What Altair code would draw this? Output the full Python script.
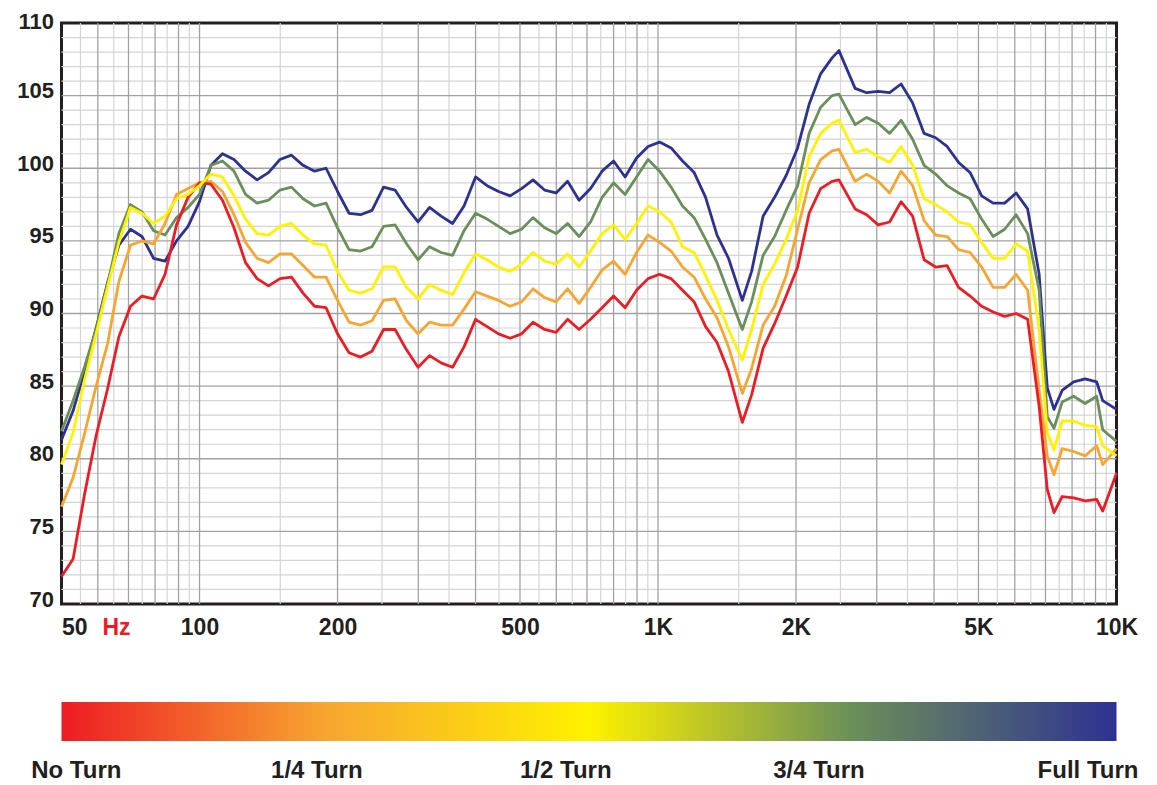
import altair as alt
import pandas as pd

# Frequencies (Hz) shared by all five curves
freqs = [50, 53.0, 56.1, 59.5, 63.0, 66.7, 70.7, 74.9, 79.4, 84.1, 89.1, 94.4,
         100, 105.9, 112.2, 118.9, 126.0, 133.5, 141.4, 149.8, 158.7, 168.2, 178.2, 188.8,
         200, 211.9, 224.5, 237.8, 252.0, 267.0, 282.8, 299.7, 317.5, 336.4, 356.4, 377.5,
         400, 423.8, 449.0, 475.7, 504.0, 533.9, 565.7, 599.3, 635.0, 672.7, 712.7, 755.1,
         800, 847.6, 898.0, 951.4, 1008, 1068, 1131, 1199, 1270, 1345, 1425, 1527,
         1600, 1695, 1796, 1903, 2016, 2136, 2263, 2397, 2481, 2691, 2851, 3021,
         3200, 3390, 3592, 3805, 4032, 4271, 4525, 4795, 5080, 5382, 5702, 6041,
         6400, 6781, 7063, 7305, 7611, 8063, 8543, 9051, 9330, 10000]

no_turn = [71.9, 73.1, 77.5, 81.6, 84.8, 88.4, 90.5, 91.2, 91.0, 92.7, 96.1, 98.0,
           99.0, 98.9, 97.8, 95.9, 93.5, 92.4, 91.9, 92.4, 92.5, 91.4, 90.5, 90.4,
           88.6, 87.3, 87.0, 87.4, 88.9, 88.9, 87.5, 86.3, 87.1, 86.6, 86.3, 87.7,
           89.6, 89.1, 88.6, 88.3, 88.6, 89.4, 88.9, 88.7, 89.6, 88.9, 89.6, 90.4,
           91.2, 90.4, 91.6, 92.4, 92.7, 92.4, 91.6, 90.8, 89.1, 88.0, 86.0, 82.5,
           84.4, 87.6, 89.3, 91.2, 93.2, 96.9, 98.6, 99.1, 99.2, 97.2, 96.8, 96.1,
           96.3, 97.7, 96.7, 93.7, 93.2, 93.3, 91.8, 91.2, 90.5, 90.1, 89.8, 90.0,
           89.6, 83.6, 77.9, 76.3, 77.4, 77.3, 77.1, 77.2, 76.4, 79.0]

quarter_turn = [76.7, 78.7, 81.7, 85.0, 87.9, 92.2, 94.7, 95.0, 94.8, 96.2, 98.2, 98.6,
                99.0, 99.1, 98.4, 96.8, 94.9, 93.8, 93.5, 94.1, 94.1, 93.3, 92.5, 92.5,
                90.9, 89.4, 89.2, 89.5, 90.9, 91.0, 89.5, 88.6, 89.4, 89.2, 89.2, 90.3,
                91.5, 91.2, 90.9, 90.5, 90.8, 91.7, 91.1, 90.8, 91.7, 90.7, 91.8, 93.0,
                93.6, 92.7, 94.2, 95.4, 94.9, 94.3, 93.2, 92.5, 91.0, 89.7, 87.7, 84.5,
                86.2, 89.2, 90.5, 92.6, 95.8, 99.0, 100.6, 101.2, 101.3, 99.1, 99.6, 99.1,
                98.3, 99.8, 98.8, 96.4, 95.4, 95.3, 94.4, 94.2, 93.2, 91.8, 91.8, 92.7,
                91.6, 84.7, 80.2, 78.9, 80.7, 80.5, 80.2, 80.9, 79.6, 80.7]

half_turn = [79.6, 81.8, 85.4, 88.6, 91.8, 94.9, 97.3, 96.9, 96.2, 96.7, 97.9, 98.2,
             98.8, 99.6, 99.4, 98.1, 96.5, 95.5, 95.4, 96.0, 96.2, 95.4, 94.8, 94.7,
             92.9, 91.6, 91.4, 91.7, 93.2, 93.2, 91.8, 91.0, 92.0, 91.6, 91.3, 92.8,
             94.1, 93.7, 93.2, 92.9, 93.4, 94.2, 93.6, 93.4, 94.1, 93.2, 94.3, 95.5,
             96.1, 95.1, 96.2, 97.4, 97.0, 96.3, 94.6, 94.2, 92.6, 90.9, 88.9, 86.8,
             88.9, 92.0, 93.4, 95.1, 97.1, 100.8, 102.4, 103.1, 103.3, 101.1, 101.3, 100.8,
             100.4, 101.5, 100.2, 97.9, 97.5, 97.0, 96.3, 96.1, 94.9, 93.8, 93.8, 94.8,
             94.3, 88.9, 81.8, 80.6, 82.6, 82.6, 82.3, 82.2, 80.9, 80.2]

three_quarter_turn = [81.9, 84.0, 86.3, 88.9, 92.0, 95.5, 97.5, 97.0, 95.7, 95.4, 96.6, 97.3,
                      98.2, 100.2, 100.5, 99.8, 98.2, 97.6, 97.8, 98.5, 98.7, 97.9, 97.4, 97.6,
                      95.9, 94.4, 94.3, 94.6, 96.0, 96.1, 94.8, 93.7, 94.6, 94.2, 94.0, 95.7,
                      96.9, 96.5, 96.0, 95.5, 95.8, 96.6, 95.9, 95.5, 96.2, 95.3, 96.3, 98.0,
                      99.0, 98.2, 99.4, 100.6, 99.8, 98.7, 97.4, 96.6, 95.1, 93.5, 91.4, 88.9,
                      90.8, 94.0, 95.3, 97.1, 98.8, 102.4, 104.2, 105.0, 105.1, 103.0, 103.5, 103.1,
                      102.4, 103.3, 102.0, 100.2, 99.6, 98.8, 98.3, 97.9, 96.5, 95.3, 95.8, 96.8,
                      95.5, 91.6, 82.9, 82.1, 83.9, 84.3, 83.8, 84.3, 82.0, 81.2]

full_turn = [81.3, 83.3, 86.0, 89.0, 92.1, 94.7, 95.8, 95.3, 93.8, 93.6, 95.0, 96.0,
             97.7, 100.2, 101.0, 100.6, 99.8, 99.2, 99.7, 100.6, 100.9, 100.2, 99.8, 100.0,
             98.4, 96.9, 96.8, 97.1, 98.7, 98.5, 97.3, 96.3, 97.3, 96.7, 96.2, 97.4,
             99.4, 98.8, 98.4, 98.1, 98.6, 99.2, 98.5, 98.3, 99.1, 97.8, 98.6, 99.8,
             100.5, 99.4, 100.7, 101.5, 101.8, 101.4, 100.5, 99.7, 98.0, 95.4, 93.8, 90.9,
             92.9, 96.7, 98.0, 99.5, 101.4, 104.4, 106.5, 107.6, 108.1, 105.5, 105.2, 105.3,
             105.2, 105.8, 104.5, 102.4, 102.1, 101.5, 100.4, 99.7, 98.1, 97.6, 97.6, 98.3,
             97.2, 92.7, 84.9, 83.4, 84.7, 85.3, 85.5, 85.3, 84.0, 83.4]

turn_values = [0, 0.25, 0.5, 0.75, 1]
turn_labels = ["No Turn", "1/4 Turn", "1/2 Turn", "3/4 Turn", "Full Turn"]
turn_colors = ["#ed1c24", "#f7a531", "#fff200", "#6b8f5a", "#2e3192"]
legend_label_spots = [0.014, 0.242, 0.478, 0.718, 0.973]

y_tick_values = [70, 75, 80, 85, 90, 95, 100, 105, 110]
x_tick_values = [50, 100, 200, 500, 1000, 2000, 5000, 10000]
y_major = [75, 80, 85, 90, 95, 100, 105]
y_minor = [71, 72, 73, 74, 76, 77, 78, 79, 81, 82, 83, 84, 86, 87, 88, 89,
           91, 92, 93, 94, 96, 97, 98, 99, 101, 102, 103, 104, 106, 107, 108, 109]
x_major = [60, 70, 80, 90, 100, 200, 300, 400, 500, 600, 700, 800, 900, 1000,
           2000, 3000, 4000, 5000, 6000, 7000, 8000, 9000]
x_minor = [55, 65, 75, 85, 95, 150, 250, 350, 450, 550, 650, 750, 850, 950,
           1500, 2500, 3500, 4500, 5500, 6500, 7500, 8500, 9500]

# Build long table, drawn in this order (yellow last, on top)
series = [(1.0, full_turn), (0.75, three_quarter_turn), (0.25, quarter_turn),
          (0.0, no_turn), (0.5, half_turn)]
rows = []
for order, (turn, vals) in enumerate(series):
    for f, v in zip(freqs, vals):
        rows.append({"freq": f, "db": v, "turn": turn, "grp": order})
df = pd.DataFrame(rows)

FONT = "Liberation Sans"
DARK = "#231f20"

xscale = alt.Scale(type="log", domain=[50, 10000], nice=False)
yscale = alt.Scale(domain=[70, 110], nice=False, zero=False)

xaxis = alt.Axis(
    values=x_tick_values,
    labelExpr="datum.value >= 1000 ? format(datum.value / 1000, 'd') + 'K' : format(datum.value, 'd')",
    labelFont=FONT, labelFontSize=23, labelFontWeight="bold", labelColor=DARK,
    labelPadding=12, ticks=False, tickSize=0, domain=False, grid=False,
    labelFlush=False, labelOverlap=False, labelBound=False,
    labelAlign={"condition": {"test": "datum.value <= 50", "value": "left"}, "value": "center"},
    title="Hz", titleColor="#ed1c24", titleFont=FONT, titleFontSize=23,
    titleFontWeight="bold", titleX=54.5, titleY=12, titleAlign="center",
    titleBaseline="top")
yaxis = alt.Axis(
    values=y_tick_values, labelFont=FONT, labelFontSize=22, labelFontWeight="bold",
    labelColor=DARK, labelBaseline="alphabetic",
    labelOffset={"condition": {"test": "datum.value >= 110", "value": 5}, "value": 2},
    labelPadding=8,
    ticks=False, tickSize=0, domain=False, grid=False, title=None, labelFlush=False)

label_expr = " : ".join(
    f"datum.value < {(legend_label_spots[i] + legend_label_spots[i + 1]) / 2:.3f} ? '{turn_labels[i]}'"
    for i in range(len(turn_labels) - 1)
) + f" : '{turn_labels[-1]}'"

lines = alt.Chart(df).mark_line(strokeWidth=2.8, strokeJoin="round").encode(
    x=alt.X("freq:Q", scale=xscale, axis=xaxis),
    y=alt.Y("db:Q", scale=yscale, axis=yaxis),
    color=alt.Color("turn:Q", scale=alt.Scale(domain=turn_values, range=turn_colors,
                                               interpolate="rgb"),
                    legend=alt.Legend(
                        orient="none", legendX=0, legendY=679, direction="horizontal",
                        gradientLength=1055, gradientThickness=39, gradientStrokeWidth=0,
                        title=None, values=legend_label_spots, labelExpr=label_expr,
                        labelFont=FONT, labelFontSize=24, labelFontWeight="bold",
                        labelColor=DARK, labelOffset=18, labelAlign="center",
                        labelOverlap=False, labelLimit=0, padding=0, offset=0)),
    detail="grp:N",
)

ymin_rules = alt.Chart(pd.DataFrame({"v": y_minor})).mark_rule(
    color="#d4d4d4", strokeWidth=1.2).encode(y=alt.Y("v:Q", scale=yscale, axis=yaxis))
ymaj_rules = alt.Chart(pd.DataFrame({"v": y_major})).mark_rule(
    color="#a2a2a2", strokeWidth=1.3).encode(y=alt.Y("v:Q", scale=yscale, axis=yaxis))
xmin_rules = alt.Chart(pd.DataFrame({"v": x_minor})).mark_rule(
    color="#d4d4d4", strokeWidth=1.2).encode(x=alt.X("v:Q", scale=xscale, axis=xaxis))
xmaj_rules = alt.Chart(pd.DataFrame({"v": x_major})).mark_rule(
    color="#a2a2a2", strokeWidth=1.3).encode(x=alt.X("v:Q", scale=xscale, axis=xaxis))

chart = alt.layer(ymin_rules, xmin_rules, ymaj_rules, xmaj_rules, lines).properties(
    width=1055, height=581,
    autosize=alt.AutoSizeParams(type="none"),
    padding={"left": 53.5, "top": 15, "right": 30, "bottom": 180},
    background="white",
).configure_view(stroke=DARK, strokeWidth=3)

chart.save("out.html", embed_options={"renderer": "svg", "actions": False})
